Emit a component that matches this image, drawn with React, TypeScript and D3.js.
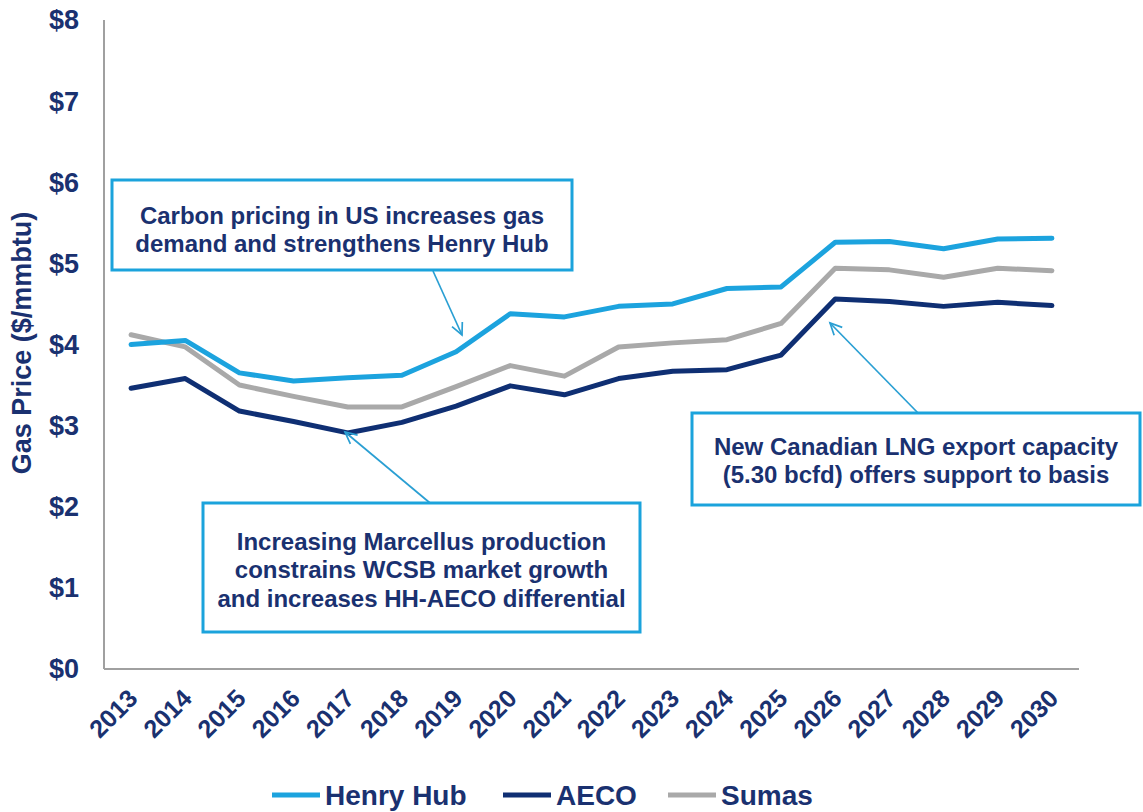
import React from "react";
import * as d3 from "d3";

const years = ["2013","2014","2015","2016","2017","2018","2019","2020","2021","2022","2023","2024","2025","2026","2027","2028","2029","2030"];
const henryHub = [4.0, 4.05, 3.65, 3.55, 3.59, 3.62, 3.91, 4.38, 4.34, 4.47, 4.50, 4.69, 4.71, 5.26, 5.27, 5.18, 5.30, 5.31];
const aeco = [3.46, 3.58, 3.18, 3.05, 2.91, 3.04, 3.24, 3.49, 3.38, 3.58, 3.67, 3.69, 3.87, 4.56, 4.53, 4.47, 4.52, 4.48];
const sumas = [4.12, 3.97, 3.50, 3.36, 3.23, 3.23, 3.48, 3.74, 3.61, 3.97, 4.02, 4.06, 4.26, 4.94, 4.92, 4.83, 4.94, 4.91];
const yTicks = [0, 1, 2, 3, 4, 5, 6, 7, 8];
const seriesNames = ["Henry Hub", "AECO", "Sumas"];
const seriesColors = ["#1ca3de", "#0f2f73", "#a9a9a9"];

const W = 1143, H = 812;
const FONT = "'Liberation Sans', Arial, sans-serif";
const TEXT = "#1a3170";
const BOX = "#1ba3dc";

export default function App() {
  const x = d3.scaleBand<string>().domain(years).range([104, 1079]);
  const y = d3.scaleLinear().domain([0, 8]).range([669, 20]);
  const cx = (yr: string) => (x(yr) as number) + x.bandwidth() / 2;
  const line = d3.line<number>().x((_, i) => cx(years[i])).y((v) => y(v));
  const data = [henryHub, aeco, sumas];

  const arrow = (x1: number, y1: number, x2: number, y2: number) => {
    const a = Math.atan2(y2 - y1, x2 - x1);
    const L = 13, sp = 0.45;
    const p1 = [x2 - L * Math.cos(a - sp), y2 - L * Math.sin(a - sp)];
    const p2 = [x2 - L * Math.cos(a + sp), y2 - L * Math.sin(a + sp)];
    return (
      <g stroke="#2a9fd3" strokeWidth={1.7} fill="none">
        <line x1={x1} y1={y1} x2={x2} y2={y2} />
        <polyline points={`${p1[0]},${p1[1]} ${x2},${y2} ${p2[0]},${p2[1]}`} />
      </g>
    );
  };

  const box = (x0: number, y0: number, w: number, h: number, lines: string[], ys: number[]) => (
    <g>
      <rect x={x0} y={y0} width={w} height={h} fill="#fff" stroke={BOX} strokeWidth={3} />
      {lines.map((t, i) => (
        <text key={i} x={x0 + w / 2} y={ys[i]} textAnchor="middle" fontSize={24} fontWeight="bold" fill={TEXT} fontFamily={FONT}>{t}</text>
      ))}
    </g>
  );

  return (
    <svg width={W} height={H} style={{ position: "absolute", left: 0, top: 0, background: "#fff" }}>
      {/* axes */}
      <line x1={104} y1={20} x2={104} y2={669} stroke="#a0a0a0" strokeWidth={2} />
      <line x1={104} y1={669} x2={1079} y2={669} stroke="#a0a0a0" strokeWidth={2} />
      {yTicks.map((t) => (
        <text key={t} x={79} y={y(t)} dy="0.35em" textAnchor="end" fontSize={27} fontWeight="bold" fill={TEXT} fontFamily={FONT}>{`$${t}`}</text>
      ))}
      {years.map((yr) => (
        <text key={yr} transform={`translate(${cx(yr) + 8},${700}) rotate(-45)`} textAnchor="end" fontSize={25} fontWeight="bold" fill={TEXT} fontFamily={FONT}>{yr}</text>
      ))}
      <text transform={`translate(31,343) rotate(-90)`} textAnchor="middle" fontSize={27} fontWeight="bold" fill={TEXT} fontFamily={FONT}>Gas Price ($/mmbtu)</text>

      {/* series */}
      {[2, 0, 1].map((k) => (
        <path key={k} d={line(data[k]) as string} fill="none" stroke={seriesColors[k]} strokeWidth={5} strokeLinejoin="round" strokeLinecap="round" />
      ))}

      {/* annotations */}
      {arrow(433, 271, 462, 335)}
      {arrow(430, 503, 345, 432)}
      {arrow(918, 413, 830, 323)}
      {box(112, 180, 460, 90, ["Carbon pricing in US increases gas", "demand and strengthens Henry Hub"], [224, 252])}
      {box(203, 503, 437, 129, ["Increasing Marcellus production", "constrains WCSB market growth", "and increases HH-AECO differential"], [550, 578, 607])}
      {box(692, 413, 448, 92, ["New Canadian LNG export capacity", "(5.30 bcfd) offers support to basis"], [455, 483])}

      {/* legend */}
      {[
        { lx: 272, tx: 325 },
        { lx: 503, tx: 556 },
        { lx: 668, tx: 721 },
      ].map((p, i) => (
        <g key={i}>
          <line x1={p.lx} y1={795} x2={p.lx + 48} y2={795} stroke={seriesColors[i]} strokeWidth={5} />
          <text x={p.tx} y={795} dy="0.35em" fontSize={28} fontWeight="bold" fill={TEXT} fontFamily={FONT}>{seriesNames[i]}</text>
        </g>
      ))}
    </svg>
  );
}
